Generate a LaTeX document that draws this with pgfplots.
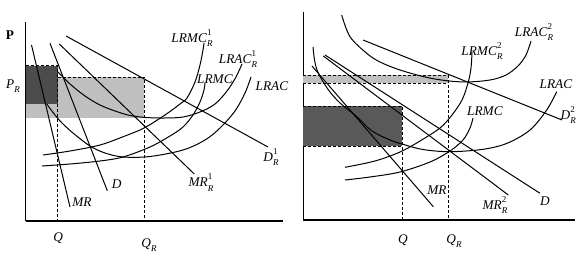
\documentclass[border=0pt]{standalone}
\usepackage{fontspec}
\setmainfont{Liberation Serif}
\usepackage{pgfplots}
\pgfplotsset{compat=1.18}
\newcommand{\lb}[3]{\textit{#1}\rlap{\raisebox{1.15ex}{\fontsize{9}{9}\selectfont #3}}\raisebox{-0.75ex}{\fontsize{9}{9}\selectfont\textit{#2}}}
\newcommand{\lbs}[2]{\textit{#1}\raisebox{-0.75ex}{\fontsize{9}{9}\selectfont\textit{#2}}}
\begin{document}
\begin{tikzpicture}[x=1pt,y=1pt]
\useasboundingbox (0,0) rectangle (577,262);
\tikzset{every node/.append style={font=\fontsize{13.3}{15}\selectfont, inner sep=0pt}}
\pgfplotsset{
  panel/.style={scale only axis, axis lines=left, axis line style={-, line width=1.1pt},
    xtick=\empty, ytick=\empty, clip=false, anchor=south west, no marks},
  crv/.style={smooth, tension=0.55, black, line width=1pt},
  ln/.style={black, line width=1pt},
  dsh/.style={black, line width=0.85pt, dash pattern=on 3pt off 2pt},
}
% ---------------- left panel ----------------
\begin{axis}[panel, at={(25.7pt,41pt)}, width=257.3pt, height=199pt,
  xmin=25.7, xmax=283, ymin=41, ymax=240]
\addplot[fill=black!25, draw=none] coordinates {(25.7,144) (144.3,144) (144.3,185) (25.7,185)} -- cycle;
\addplot[fill=black!70, draw=none] coordinates {(25.7,158) (57.7,158) (57.7,196.3) (25.7,196.3)} -- cycle;
\addplot[dsh] coordinates {(25.7,196.3) (57.7,196.3) (57.7,41)};
\addplot[dsh] coordinates {(57.7,185) (144.3,185) (144.3,41)};
% straight lines
\addplot[ln] coordinates {(66,226) (268,115)};
\addplot[ln] coordinates {(59.3,218) (194.3,88)};
\addplot[ln] coordinates {(50,218.7) (107.3,71.3)};
\addplot[ln] coordinates {(31.5,217) (70,55)};
% LRMC_R^1
\addplot[crv] coordinates {(43,107) (70,111) (100,117) (125,126) (144,134) (165,147) (180,158) (187,164) (195,180) (200,197) (203,212) (204,219)};
% LRAC_R^1
\addplot[crv] coordinates {(57.7,190.3) (70,178) (85,166) (100,157) (115,151) (130,146.5) (146,144.5) (165,144) (183,145) (200,150) (215,158) (227,171) (236,185) (242,198)};
% LRMC
\addplot[crv] coordinates {(42,96) (70,98) (100,101) (123,105) (150,115) (170,126) (183,135) (193,147) (200,160) (204,172) (205,179)};
% LRAC
\addplot[crv] coordinates {(46.7,158) (55,147) (62,139) (73,129) (90,116) (105,109) (123,105) (150,105.5) (183,112) (205,122) (220,134) (235,151) (245,169) (251,185)};
% labels
\node at (axis cs:10,227) {\textbf{P}};
\node at (axis cs:13,176) {\lbs{P}{R}};
\node at (axis cs:58.3,24) {\textit{Q}};
\node at (axis cs:149,17) {\lbs{Q}{R}};
\node at (axis cs:82,60.3) {\textit{MR}};
\node at (axis cs:116.7,77.7) {\textit{D}};
\node at (axis cs:201,79.3) {\lb{MR}{R}{1}};
\node at (axis cs:271,105) {\lb{D}{R}{1}};
\node at (axis cs:192,224) {\lb{LRMC}{R}{1}};
\node at (axis cs:238,203) {\lb{LRAC}{R}{1}};
\node at (axis cs:215,183) {\textit{LRMC}};
\node at (axis cs:272,176) {\textit{LRAC}};
\end{axis}
% ---------------- right panel ----------------
\begin{axis}[panel, at={(303.3pt,42pt)}, width=271.7pt, height=208pt,
  xmin=303.3, xmax=575, ymin=42, ymax=250]
\addplot[fill=black!25, draw=none] coordinates {(303.3,179) (448,179) (448,187) (303.3,187)} -- cycle;
\addplot[fill=black!65, draw=none] coordinates {(303.3,116) (402,116) (402,156) (303.3,156)} -- cycle;
\addplot[dsh] coordinates {(303.3,187) (448,187) (448,42)};
\addplot[dsh] coordinates {(303.3,179) (448,179)};
\addplot[dsh] coordinates {(303.3,156) (402,156) (402,42)};
\addplot[dsh] coordinates {(303.3,116) (402,116)};
% LRAC_R^2
\addplot[crv] coordinates {(341.7,247) (350,225.3) (366.7,208.7) (380,200) (400,192) (425,185) (445,181.5) (466,180) (490,182) (506,187) (518,196) (526,207) (531,221)};
% straight lines
\addplot[ln] coordinates {(363,222) (562,142)};
\addplot[ln] coordinates {(323.3,206) (508.3,67)};
\addplot[ln] coordinates {(325,207) (540,68.7)};
\addplot[ln] coordinates {(312,196) (433.3,55.3)};
% LRAC
\addplot[crv] coordinates {(313,215) (314.5,202) (317,192) (322,182) (330,170) (340,159) (356.7,145.3) (372,131) (390,122) (402,118) (423,112.5) (450,110.3) (483,112.7) (507,118.7) (530,132) (546.7,152) (556.7,170.3)};
% LRMC
\addplot[crv] coordinates {(345,82) (370,85) (400,90) (430,100) (450,111) (463,122) (470,134) (473,144)};
% LRMC_R^2
\addplot[crv] coordinates {(345,94.7) (375,101) (400,110) (420,121) (440,134) (452,147) (462,162) (468,179) (471,194) (472,210)};
% labels
\node at (axis cs:534,230) {\lb{LRAC}{R}{2}};
\node at (axis cs:482,211) {\lb{LRMC}{R}{2}};
\node at (axis cs:556,178) {\textit{LRAC}};
\node at (axis cs:485,151) {\textit{LRMC}};
\node[anchor=east] at (axis cs:576,147) {\lb{D}{R}{2}};
\node at (axis cs:437,72) {\textit{MR}};
\node at (axis cs:495,57) {\lb{MR}{R}{2}};
\node at (axis cs:545,61) {\textit{D}};
\node at (axis cs:403,22) {\textit{Q}};
\node at (axis cs:454,21) {\lbs{Q}{R}};
\end{axis}
\end{tikzpicture}
\end{document}
